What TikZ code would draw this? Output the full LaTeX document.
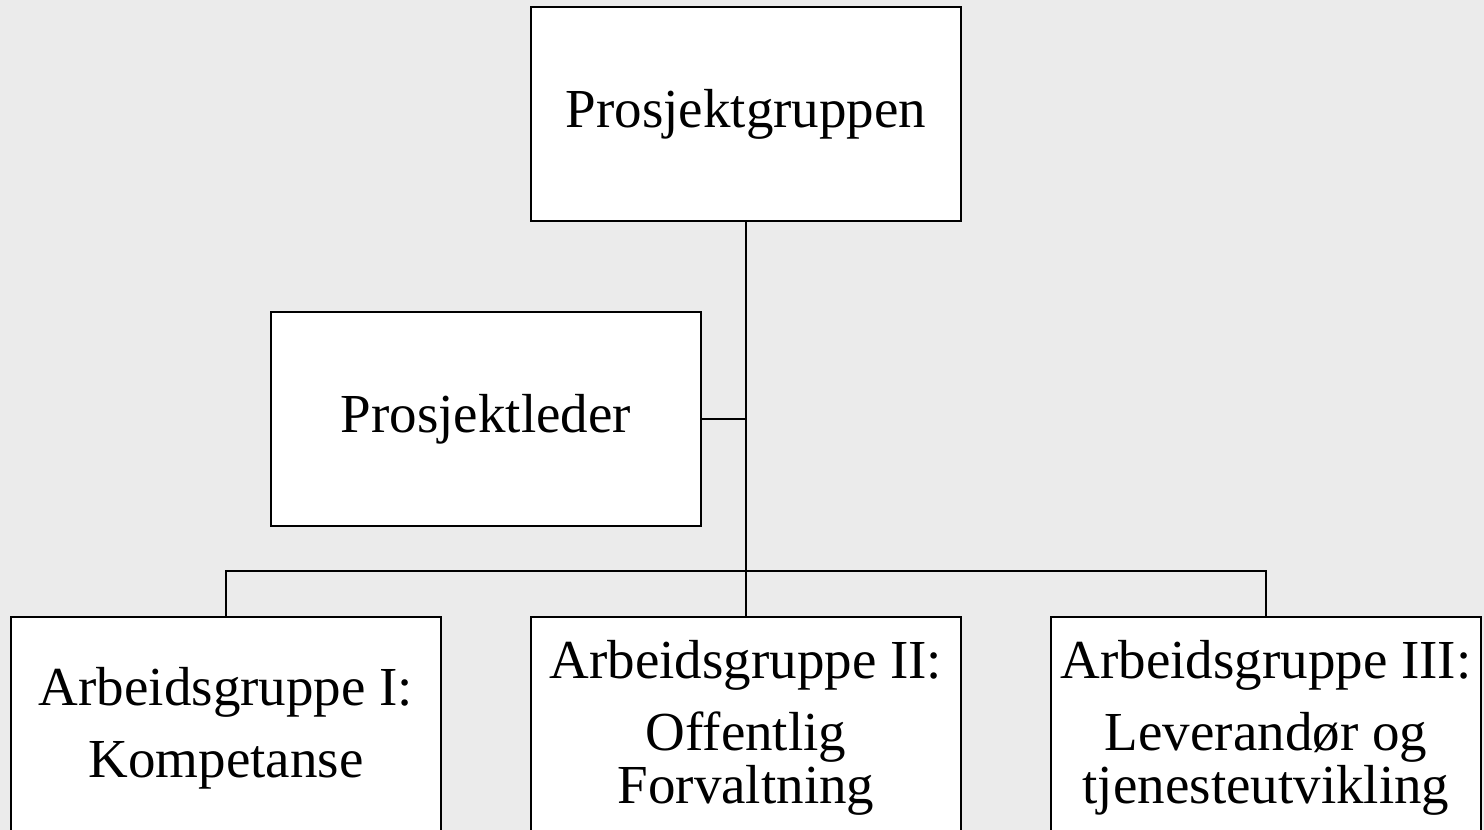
\documentclass[tikz,border=0pt]{standalone}
\usepackage{fontspec}
\setmainfont{Liberation Serif}
\usetikzlibrary{positioning}
\definecolor{bggray}{HTML}{EBEBEB}
\tikzset{
  orgbox/.style={draw=black, line width=2pt, fill=white, minimum width=430pt, minimum height=214pt, align=center, font=\fontsize{55pt}{53pt}\selectfont},
  orgline/.style={black, line width=2pt},
}

\begin{document}
\begin{tikzpicture}[x=1pt, y=1pt]
    \useasboundingbox (0,0) rectangle (1484,830);
    \clip (0,0) rectangle (1484,830);
    \fill [bggray] (0,0) rectangle (1484,830);

    \node [orgbox] (pg) at (746,716)                                {Prosjektgruppen};
    \node [orgbox] [below=89pt of pg] [xshift=-260pt] (pl)          {Prosjektleder};
    \node [orgbox] [below=394pt of pg] [minimum height=222pt] (ag2) {Arbeidsgruppe II:\\[19pt] Offentlig\\ Forvaltning};
    \node [orgbox] [left=88pt of ag2]  [minimum height=222pt] (ag1) {Arbeidsgruppe I:\\[19pt] Kompetanse};
    \node [orgbox] [right=88pt of ag2] [minimum height=222pt] (ag3) {Arbeidsgruppe III:\\[19pt] Leverandør og\\ tjenesteutvikling};

    \coordinate (bus) at ([yshift=45pt]ag2.north);

    \draw [orgline] (pg) -- (ag2);
    \draw [orgline] (pl) -- (pl -| pg);
    \draw [orgline] (ag1) |- (bus) -| (ag3);

\end{tikzpicture}
\end{document}
